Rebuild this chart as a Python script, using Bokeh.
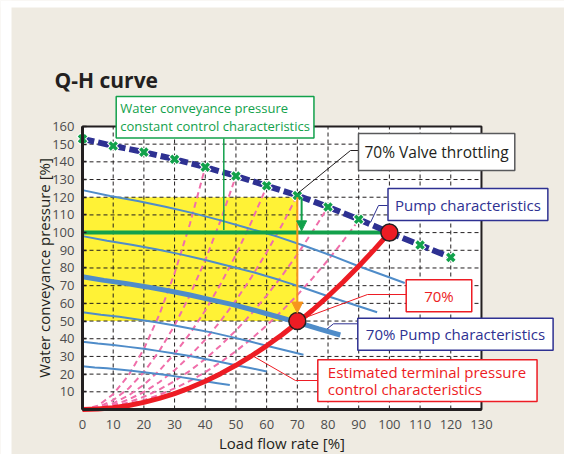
from bokeh.plotting import figure
from bokeh.models import Label, Arrow, NormalHead, FixedTicker, Range1d
from bokeh.embed import file_html
from bokeh.resources import INLINE

# ---------------- data ----------------
x_ticks = [0, 10, 20, 30, 40, 50, 60, 70, 80, 90, 100, 110, 120, 130]
y_ticks = [10, 20, 30, 40, 50, 60, 70, 80, 90, 100, 110, 120, 130, 140, 150, 160]

# 100% pump characteristics (navy dashed with markers)
flow = [0, 10, 20, 30, 40, 50, 60, 70, 80, 90, 100, 110, 120]
pump_100 = [153, 149, 145.5, 141.5, 137, 132, 126.5, 121, 114.5, 107.5, 100, 93, 86]

# reduced speed pump curves (blue)
pump_90_q = [0, 9, 18, 27, 36, 45, 54, 63, 72, 81, 90, 99, 105]
pump_90_h = [124, 120.7, 117.9, 114.6, 111, 106.9, 102.5, 98, 92.7, 87.1, 81, 75.3, 71.5]
pump_80_q = [0, 8, 16, 24, 32, 40, 48, 56, 64, 72, 80, 88, 96]
pump_80_h = [98, 95.4, 93.1, 90.6, 87.7, 84.5, 81, 77.4, 73.3, 68.8, 64, 59.5, 55]
pump_70_q = [0, 7, 14, 21, 28, 35, 42, 49, 56, 63, 70, 77, 84]
pump_70_h = [75, 73, 71.3, 69.3, 67.1, 64.7, 62, 59.3, 56.1, 52.7, 49.3, 45.6, 42.1]
pump_60_q = [0, 6, 12, 18, 24, 30, 36, 42, 48, 54, 60, 66, 72]
pump_60_h = [55, 53.6, 52.4, 50.9, 49.3, 47.5, 45.5, 43.6, 41.2, 38.7, 36, 33.5, 31]
pump_50_q = [0, 5, 10, 15, 20, 25, 30, 35, 40, 45, 50, 55, 60]
pump_50_h = [38.3, 37.3, 36.4, 35.4, 34.3, 33, 31.6, 30.3, 28.6, 26.9, 25, 23.3, 21.5]
pump_40_q = [0, 4, 8, 12, 16, 20, 24, 28, 32, 36, 40, 44, 48]
pump_40_h = [24.5, 23.8, 23.3, 22.6, 21.9, 21.1, 20.2, 19.4, 18.3, 17.2, 16, 14.9, 13.8]

# estimated terminal pressure control characteristics (red)
term_q = [0, 5, 10, 15, 20, 25, 30, 35, 40, 45, 50, 55, 60, 65, 70, 75, 80, 85, 90, 95, 100]
term_h = [0, 0.25, 1, 2.25, 4, 6.25, 9, 12.25, 16, 20.25, 25, 30.25, 36, 42.25, 49, 56.25, 64, 72.25, 81, 90.25, 100]

# valve throttling system curves (pink dashed)
sys1_q = [0, 5, 10, 15, 20, 25, 30, 35, 40]
sys1_h = [0, 2.1, 8.6, 19.3, 34.2, 53.5, 77, 104.9, 137]
sys2_q = [0, 5, 10, 15, 20, 25, 30, 35, 40, 45, 50]
sys2_h = [0, 1.3, 5.3, 11.9, 21.1, 33, 47.5, 64.7, 84.5, 106.9, 132]
sys3_q = [0, 5, 10, 15, 20, 25, 30, 35, 40, 45, 50, 55, 60]
sys3_h = [0, 0.9, 3.5, 7.9, 14, 21.9, 31.5, 42.9, 56, 70.9, 87.5, 105.9, 126]
sys4_q = [0, 5, 10, 15, 20, 25, 30, 35, 40, 45, 50, 55, 60, 65, 70]
sys4_h = [0, 0.6, 2.5, 5.6, 9.9, 15.4, 22.2, 30.3, 39.5, 50, 61.7, 74.7, 88.9, 104.3, 121]
sys5_q = [0, 5, 10, 15, 20, 25, 30, 35, 40, 45, 50, 55, 60, 65, 70, 75, 80]
sys5_h = [0, 0.4, 1.8, 4, 7.2, 11.2, 16.1, 21.9, 28.6, 36.2, 44.7, 54.1, 64.4, 75.6, 87.7, 100.7, 114.5]
sys6_q = [0, 5, 10, 15, 20, 25, 30, 35, 40, 45, 50, 55, 60, 65, 70, 75, 80, 85, 90]
sys6_h = [0, 0.3, 1.3, 3, 5.3, 8.3, 11.9, 16.2, 21.1, 26.7, 33, 39.9, 47.5, 55.8, 64.7, 74.3, 84.5, 95.4, 107]

# constant pressure control line and saving region
const_q = [0, 100]
const_h = [100, 100]
yellow_q = [0, 70]
yellow_h = [50, 120]

# operating points
op_q = [70, 100]
op_h = [50, 100]

# ---------------- colours ----------------
NAVY = "#2e3192"
GREEN = "#12a14b"
BLUE = "#4f8cc9"
PINK = "#f06eaa"
RED = "#ed1c24"
ORANGE = "#f7941d"
YELLOW = "#fff236"
DARK = "#231f20"
BEIGE = "#efebe2"
FONT = "Open Sans"

# ---------------- layout: whole canvas is the frame ----------------
W, H = 564, 454
X0_PX, X_SCALE = 82, 3.069      # pixel of x=0, pixels per unit
Y0_PX, Y_SCALE = 409, 1.769     # pixel of y=0, pixels per unit
XMIN, XMAX = 0, 130
YMIN, YMAX = 0, 160


def dx(px):
    return (px - X0_PX) / X_SCALE


def dy(py):
    return (Y0_PX - py) / Y_SCALE


p = figure(width=W, height=H, output_backend="svg", toolbar_location=None,
           x_range=Range1d(dx(0), dx(W)), y_range=Range1d(dy(H), dy(0)),
           min_border=0, min_border_left=0, min_border_right=0,
           min_border_top=0, min_border_bottom=0)
p.border_fill_color = BEIGE
p.background_fill_color = BEIGE
p.outline_line_color = None
p.grid.visible = False

# white page strips on the left and top of the reference
p.quad(left=[dx(0)], right=[dx(11)], bottom=[dy(H)], top=[dy(0)],
       fill_color="white", line_color=None, level="image")
p.quad(left=[dx(0)], right=[dx(W)], bottom=[dy(7)], top=[dy(0)],
       fill_color="white", line_color=None, level="image")

# plot area background and yellow region
p.quad(left=[XMIN], right=[XMAX], bottom=[YMIN], top=[YMAX],
       fill_color="white", line_color=None, level="image")
p.quad(left=[yellow_q[0]], right=[yellow_q[1]], bottom=[yellow_h[0]], top=[yellow_h[1]],
       fill_color=YELLOW, line_color=None, level="image")

# axes at fixed locations
p.xaxis.fixed_location = 0
p.yaxis.fixed_location = 0
p.xaxis.bounds = (XMIN, XMAX)
p.yaxis.bounds = (YMIN, YMAX)
p.xaxis.ticker = FixedTicker(ticks=x_ticks)
p.yaxis.ticker = FixedTicker(ticks=y_ticks)
for ax in (p.xaxis[0], p.yaxis[0]):
    ax.axis_line_width = 3
    ax.axis_line_color = DARK
    ax.major_label_text_font = FONT
    ax.major_label_text_font_size = "13px"
    ax.major_label_text_color = "#4d4d4d"
    ax.minor_tick_line_color = None
    ax.axis_label_text_font = FONT
    ax.axis_label_text_font_size = "15px"
    ax.axis_label_text_font_style = "normal"
    ax.axis_label_text_color = DARK
p.xaxis.major_tick_line_color = None
p.xaxis.major_label_standoff = 4
p.xaxis.axis_label = "Load flow rate [%]"
p.xaxis.axis_label_standoff = 1
p.yaxis.major_tick_in = 4
p.yaxis.major_tick_out = 0
p.yaxis.major_tick_line_width = 1.5
p.yaxis.major_tick_line_color = DARK
p.yaxis.major_label_standoff = 8
p.yaxis.axis_label = "Water conveyance pressure [%]"
p.yaxis.axis_label_standoff = -5

# dashed grid lines from the tick values
grid_x = [t for t in x_ticks if XMIN < t < XMAX]
grid_y = [t for t in y_ticks if YMIN < t < YMAX]
p.segment(x0=grid_x, y0=YMIN, x1=grid_x, y1=YMAX, line_color=DARK, line_width=1,
          line_dash="4 3")
p.segment(x0=XMIN, y0=grid_y, x1=XMAX, y1=grid_y, line_color=DARK, line_width=1,
          line_dash="4 3")

# pink dashed system curves
for q, h in ((sys1_q, sys1_h), (sys2_q, sys2_h), (sys3_q, sys3_h),
             (sys4_q, sys4_h), (sys5_q, sys5_h), (sys6_q, sys6_h)):
    p.line(q, h, line_color=PINK, line_width=2, line_dash="6 4")

# blue pump curves
for q, h in ((pump_90_q, pump_90_h), (pump_80_q, pump_80_h), (pump_60_q, pump_60_h),
             (pump_50_q, pump_50_h), (pump_40_q, pump_40_h)):
    p.line(q, h, line_color=BLUE, line_width=2)
p.line(pump_70_q, pump_70_h, line_color=BLUE, line_width=5)

# constant pressure line
p.line(const_q, const_h, line_color=GREEN, line_width=4)

# arrows
p.add_layout(Arrow(end=NormalHead(size=11, fill_color=ORANGE, line_color=ORANGE, line_width=1),
                   x_start=70, y_start=120, x_end=70, y_end=54.5,
                   line_color=ORANGE, line_width=2))
p.add_layout(Arrow(end=NormalHead(size=10, fill_color=GREEN, line_color=GREEN, line_width=1),
                   x_start=71.4, y_start=120, x_end=71.4, y_end=101,
                   line_color=GREEN, line_width=2))

# red terminal curve
p.line(term_q, term_h, line_color=RED, line_width=5)

# navy pump curve
p.line(flow, pump_100, line_color=NAVY, line_width=6, line_dash="12 4")
p.scatter(flow, pump_100, marker="x", size=12, line_width=5.5, line_color="white")
p.scatter(flow, pump_100, marker="x", size=10, line_width=3.5, line_color=GREEN)

# frame outline (top / right)
p.quad(left=[XMIN], right=[XMAX], bottom=[YMIN], top=[YMAX],
       fill_color=None, line_color=DARK, line_width=2)

# leader lines
p.line([dx(223.3), dx(223.3)], [dy(138), 101.5], line_color=GREEN, line_width=1.5)
p.line([dx(358), dx(350), 70.2], [dy(150), dy(150), 122.3], line_color=DARK, line_width=1)
p.line([dx(387), dx(378), dx(370)], [dy(205), dy(205), dy(222)], line_color=NAVY, line_width=1)
p.line([dx(406), dx(367), 70], [dy(294), dy(294), 50.3], line_color=RED, line_width=1)
p.line([dx(357), dx(333), dx(326.7)], [dy(323.3), dy(323.3), dy(328.3)],
       line_color=NAVY, line_width=1)
p.line([dx(317), dx(295), dx(253.3)], [dy(380), dy(380), dy(356)], line_color=RED, line_width=1)

# operating points
p.scatter(op_q, op_h, marker="circle", size=17, fill_color=RED, line_color=DARK, line_width=1.5)


def callout(px, py, text, color, size, pad, border=None, lh=1.2):
    # pad = (left, right, top, bottom)
    p.add_layout(Label(x=dx(px), y=dy(py), text=text, text_font=FONT, text_font_size=size,
                       text_color=color, text_align="left", text_baseline="top",
                       background_fill_color="white", border_line_color=border or color,
                       border_line_width=1.5, padding=pad, text_line_height=lh))


callout(115.7, 96, "Water conveyance pressure\nconstant control characteristics",
        GREEN, "13px", (4, 4, 2, 3), lh=1.03)
callout(358, 133, "70% Valve throttling", DARK, "15.5px", (6, 6, 7, 8), border="#58595b")
callout(387.5, 188, "Pump characteristics", NAVY, "15px", (7, 7, 6, 6))
callout(405.7, 279.3, "70%", RED, "15px", (18, 18, 6, 6))
callout(357.3, 317.7, "70% Pump characteristics", NAVY, "15px", (8, 8, 6, 6))
callout(317.3, 359.3, "Estimated terminal pressure\ncontrol characteristics",
        RED, "15px", (10, 11, 2, 3), lh=0.84)

# title
p.add_layout(Label(x=dx(54), y=dy(79), text="Q-H curve",
                   text_font=FONT, text_font_size="21px", text_font_style="bold",
                   text_color=DARK, text_baseline="alphabetic"))

open("out.html", "w").write(file_html(p, INLINE))
